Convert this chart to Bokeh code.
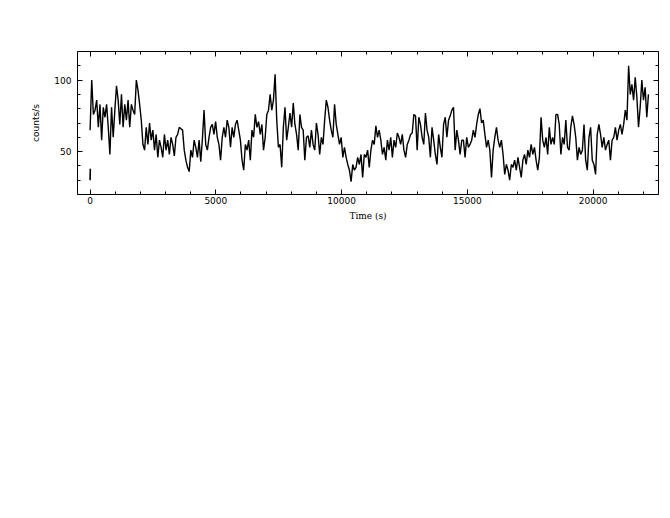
import numpy as np
from bokeh.plotting import figure
from bokeh.models import SingleIntervalTicker, LinearAxis, Range1d, CustomJSTickFormatter
from bokeh.embed import file_html
from bokeh.resources import INLINE

# --- data ---
t_start = 0.0
t_stop = 22200.0

rate_part1 = [65, 100, 76, 79, 86, 67, 83, 58, 81, 74, 83, 67, 48, 81, 60, 79, 96, 86, 69, 90,
              67, 83, 72, 86, 67, 83, 79, 76, 100, 93, 83, 72, 55, 51, 67, 55, 70, 58, 65, 51,
              62, 46, 58, 53, 46, 62, 51, 58, 48, 60, 55, 47, 60, 62, 67]
rate_part2 = [66, 65, 51, 44, 39, 36, 51, 46, 58, 53, 46, 58, 43, 59, 79, 55, 51, 60, 67, 69,
              62, 71, 60, 55, 44, 60, 67, 60, 72, 67, 53, 67, 60, 69, 72, 65, 58, 44, 37, 55,
              51, 58, 44, 65, 60, 76, 67, 71, 62, 69, 51, 60, 76, 79, 90, 79, 86]
rate_part3 = [104, 72, 53, 55, 39, 67, 81, 58, 67, 77, 67, 84, 69, 62, 51, 76, 67, 65, 44, 60,
              61, 53, 65, 55, 51, 70, 62, 48, 60, 55, 72, 86, 81, 72, 65, 60, 83, 69, 62, 55,
              60, 46, 53, 46, 41, 37, 29, 41, 37, 39, 46, 41, 48, 32, 48, 46, 51]
rate_part4 = [39, 51, 58, 55, 68, 60, 65, 58, 48, 53, 44, 58, 51, 60, 46, 58, 53, 63, 60, 55,
              62, 51, 46, 55, 58, 62, 63, 76, 75, 51, 74, 69, 60, 55, 77, 65, 60, 46, 67, 58,
              48, 41, 62, 53, 46, 69, 74, 60, 72, 75, 79, 81, 51, 65, 58, 48, 58]
rate_part5 = [58, 46, 60, 53, 55, 58, 65, 60, 69, 76, 80, 70, 72, 62, 53, 58, 51, 32, 51, 60,
              67, 58, 53, 58, 48, 34, 41, 37, 30, 41, 39, 44, 37, 46, 39, 32, 44, 48, 41, 51,
              46, 55, 48, 53, 44, 37, 46, 74, 58, 53, 60, 48, 67, 55, 60, 55, 76]
rate_part6 = [76, 69, 48, 60, 55, 72, 53, 51, 67, 75, 69, 60, 44, 53, 48, 51, 69, 44, 37, 60,
              67, 44, 41, 34, 62, 69, 62, 53, 60, 51, 55, 58, 44, 58, 60, 67, 58, 65, 69, 62,
              69, 79, 72, 110, 90, 97, 86, 102, 88, 67, 81, 100, 86, 95, 74, 90]

# short separate segment at the very start
first_t = [0, 10]
first_rate = [30, 38]

rate = rate_part1 + rate_part2 + rate_part3 + rate_part4 + rate_part5 + rate_part6
time = np.linspace(t_start, t_stop, len(rate))

p = figure(width=662, height=260, output_backend="svg", toolbar_location=None,
           x_range=Range1d(-500, 22600), y_range=Range1d(20, 120),
           frame_width=581, frame_height=143,
           min_border_left=77, min_border_right=4, min_border_top=51, min_border_bottom=60)

p.line(time, rate, line_color="black", line_width=1.4)
p.line(first_t, first_rate, line_color="black", line_width=1.6)

p.grid.visible = False
p.outline_line_color = "black"
p.outline_line_width = 1
p.background_fill_color = "white"
p.border_fill_color = "white"

xt = SingleIntervalTicker(interval=5000, num_minor_ticks=5)
yt = SingleIntervalTicker(interval=50, num_minor_ticks=5)

def style(ax):
    ax.major_tick_in = 5
    ax.major_tick_out = 0
    ax.minor_tick_in = 3
    ax.minor_tick_out = 0
    ax.major_tick_line_color = "black"
    ax.minor_tick_line_color = "black"
    ax.axis_line_color = None
    ax.major_label_text_font = "DejaVu Sans"
    ax.major_label_text_font_size = "9px"
    ax.major_label_text_color = "black"
    ax.axis_label_text_font_style = "normal"
    ax.axis_label_text_color = "black"

xa = p.xaxis[0]
xa.ticker = xt
style(xa)
xa.axis_label = "Time (s)"
xa.axis_label_text_font = "DejaVu Serif"
xa.axis_label_text_font_size = "9px"
xa.major_label_standoff = 2
xa.axis_label_standoff = 4

ya = p.yaxis[0]
ya.ticker = yt
style(ya)
ya.axis_label = "counts/s"
ya.axis_label_text_font = "DejaVu Sans"
ya.axis_label_text_font_size = "9px"
ya.major_label_standoff = 6
ya.axis_label_standoff = 10

blank = CustomJSTickFormatter(code="return '';")
top = LinearAxis(ticker=SingleIntervalTicker(interval=5000, num_minor_ticks=5), formatter=blank)
style(top)
p.add_layout(top, "above")
right = LinearAxis(ticker=SingleIntervalTicker(interval=50, num_minor_ticks=5), formatter=blank)
style(right)
p.add_layout(right, "right")

open("out.html", "w").write(file_html(p, INLINE))
